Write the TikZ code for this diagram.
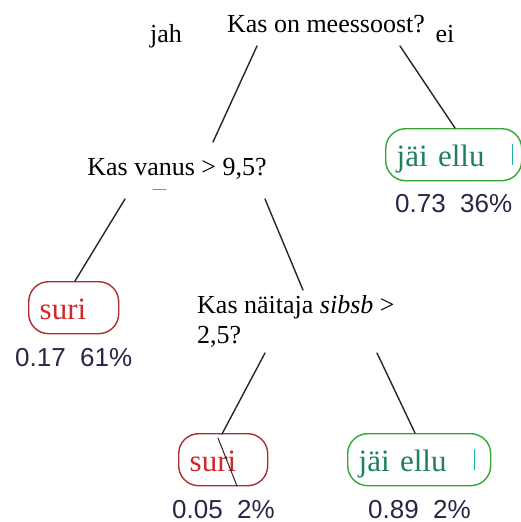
\documentclass[tikz,border=0pt]{standalone}
\usepackage{fontspec}
\setmainfont{Liberation Serif}
\setsansfont{Liberation Sans}
\definecolor{boxred}{RGB}{172,45,45}
\definecolor{textred}{RGB}{208,40,40}
\definecolor{boxgreen}{RGB}{50,168,50}
\definecolor{textgreen}{RGB}{30,128,96}
\definecolor{barteal}{RGB}{30,176,160}
\definecolor{numblue}{RGB}{38,38,72}
\begin{document}
\begin{tikzpicture}[x=1pt, y=-1pt, line join=round, line cap=round,
	qtext/.style={font=\fontsize{26}{30}\selectfont, inner sep=0pt},
	leaf/.style={draw=box#1, text=text#1, line width=1.4pt, rounded corners=20pt,
		font=\fontsize{31}{36}\selectfont, inner xsep=11pt, inner ysep=0pt,
		text height=23pt, text depth=0pt, minimum height=52pt, align=left, anchor=north west},
	share/.style={font=\sffamily\fontsize{26}{30}\selectfont, text=numblue, inner sep=0pt, anchor=base west},
	edge/.style={line width=1.4pt, black!85}]
	\useasboundingbox (0,0) rectangle (521,522);
	% questions
	\node[qtext, anchor=base] (root) at (326,32) {Kas on meessoost?};
	\node[qtext, anchor=base] (yes) at (166,42) {jah};
	\node[qtext, anchor=base] (no) at (445,42) {ei};
	\node[qtext, anchor=base] (age) at (177,175) {Kas vanus > 9,5?};
	\node[qtext, anchor=base west, align=left] (sib) at (197,343) {Kas näitaja \textit{sibsb} >\\2,5?};
	% leaves
	\node[leaf=green, text width=114pt] (ellu1) at (385,128) {jäi ellu};
	\node[leaf=red, text width=68pt] (suri1) at (28,281) {suri};
	\node[leaf=red, text width=67pt] (suri2) at (178,433) {suri};
	\node[leaf=green, text width=121pt] (ellu2) at (347,433) {jäi ellu};
	\draw[barteal, line width=1.2pt] ([xshift=-10pt,yshift=-10pt]ellu1.east) -- ([xshift=-10pt,yshift=10pt]ellu1.east);
	\draw[barteal, line width=1.2pt] ([xshift=-17pt,yshift=-10pt]ellu2.east) -- ([xshift=-17pt,yshift=10pt]ellu2.east);
	% shares
	\node[share] (n1) at (395,212) {0.73\ \ 36\%};
	\node[share] (n2) at (15,366) {0.17\ \ 61\%};
	\node[share] (n3) at (172,518) {0.05\ \ 2\%};
	\node[share] (n4) at (368,518) {0.89\ \ 2\%};
	% branch ends
	\coordinate (r1) at (257,46);  \coordinate (a1) at (213,142);
	\coordinate (r2) at (400,46);  \coordinate (e1) at (455,128);
	\coordinate (a2) at (125,199); \coordinate (s1) at (75,281);
	\coordinate (a3) at (265,199); \coordinate (b1) at (303,290);
	\coordinate (b2) at (265,353); \coordinate (s2) at (222,434);
	\coordinate (b3) at (377,353); \coordinate (e2) at (415,433);
	\coordinate (x1) at (218,438); \coordinate (x2) at (237,486);
	\draw[edge] (r1) -- (a1);
	\draw[edge] (r2) -- (e1);
	\draw[edge] (a2) -- (s1);
	\draw[edge] (a3) -- (b1);
	\draw[edge] (b2) -- (s2);
	\draw[edge] (b3) -- (e2);
	\draw[edge, line width=1pt] (x1) -- (x2);
	\draw[black!45, line width=1pt] (153,189) -- (166,189);
\end{tikzpicture}
\end{document}
